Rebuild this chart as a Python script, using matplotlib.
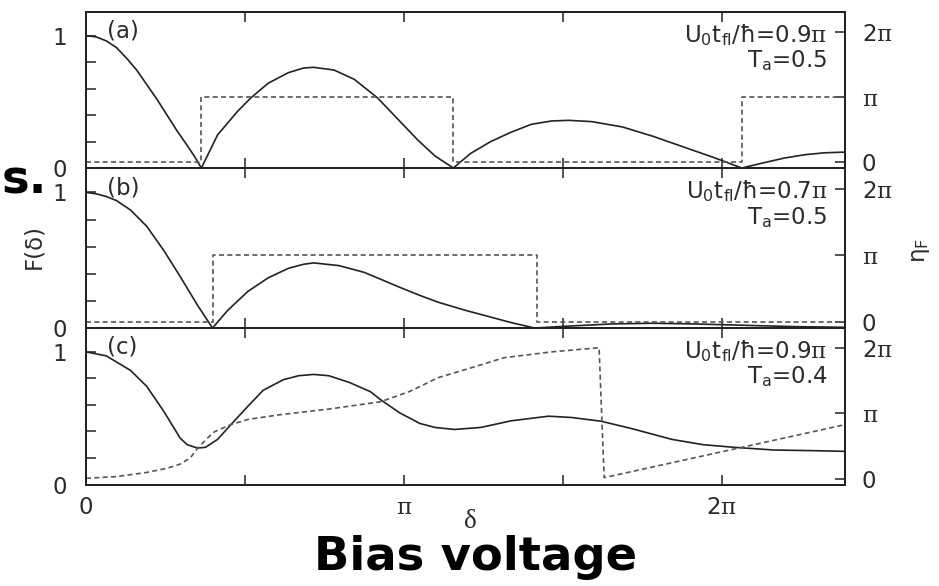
import numpy as np
import matplotlib
matplotlib.use("Agg")
import matplotlib.pyplot as plt

plt.rcParams["font.family"] = ["DejaVu Sans"]
plt.rcParams["mathtext.fontset"] = "custom"
plt.rcParams["mathtext.rm"] = "DejaVu Sans"
plt.rcParams["mathtext.it"] = "DejaVu Sans:italic"
plt.rcParams["mathtext.cal"] = "DejaVu Serif"

PI = np.pi

# panel labels / parameters
panel_tags = ["(a)", "(b)", "(c)"]
u0_values = ["0.9", "0.7", "0.9"]
ta_values = ["0.5", "0.5", "0.4"]

# (a) U0 tfl/hbar = 0.9 pi, Ta = 0.5
delta_a = [0, 0.1, 0.2, 0.3, 0.4, 0.5, 0.6, 0.7, 0.8, 0.9, 1.0, 1.07, 1.14,
           1.3, 1.5, 1.63, 1.8, 2.0, 2.15, 2.25, 2.45, 2.65, 2.88, 3.08,
           3.28, 3.45, 3.63,
           3.8, 4.0, 4.2, 4.4, 4.6, 4.77, 5.0, 5.3, 5.6, 5.9, 6.2, 6.48,
           6.7, 6.9, 7.1, 7.3, 7.5]
f_a = [1.0, 0.99, 0.96, 0.91, 0.83, 0.74, 0.63, 0.52, 0.40, 0.28, 0.17, 0.09, 0.0,
       0.25, 0.43, 0.53, 0.64, 0.72, 0.755, 0.76, 0.74, 0.67, 0.53, 0.37,
       0.21, 0.09, 0.0,
       0.11, 0.2, 0.27, 0.33, 0.355, 0.36, 0.35, 0.31, 0.24, 0.16, 0.08, 0.0,
       0.04, 0.075, 0.10, 0.115, 0.12]
phase_delta_a = [0, 1.14, 1.14, 3.63, 3.63, 6.48, 6.48, 7.5]
eta_a = [0, 0, PI, PI, 0, 0, PI, PI]

# (b) U0 tfl/hbar = 0.7 pi, Ta = 0.5
delta_b = [0, 0.1, 0.2, 0.3, 0.44, 0.6, 0.77, 0.93, 1.1, 1.25,
           1.4, 1.6, 1.8, 2.0, 2.15, 2.25, 2.5, 2.75, 2.91, 3.1, 3.3, 3.48,
           3.75, 4.0, 4.2, 4.43,
           4.8, 5.2, 5.6, 6.0, 6.5, 7.0, 7.5]
f_b = [1.0, 0.99, 0.97, 0.94, 0.87, 0.75, 0.57, 0.38, 0.17, 0.0,
       0.13, 0.27, 0.37, 0.44, 0.47, 0.48, 0.46, 0.41, 0.36, 0.30, 0.24, 0.19,
       0.13, 0.08, 0.04, 0.0,
       0.015, 0.03, 0.035, 0.03, 0.02, 0.01, 0.005]
phase_delta_b = [0, 1.25, 1.25, 4.46, 4.46, 7.5]
eta_b = [0, 0, PI, PI, 0, 0]

# (c) U0 tfl/hbar = 0.9 pi, Ta = 0.4
delta_c = [0, 0.2, 0.44, 0.6, 0.77, 0.93, 1.0, 1.1, 1.18, 1.3, 1.43, 1.6,
           1.75, 1.95, 2.1, 2.25, 2.4, 2.6, 2.81, 2.91, 3.1, 3.3, 3.45, 3.64,
           3.9, 4.2, 4.57, 4.8, 5.09, 5.4, 5.79, 6.1, 6.41, 6.8, 7.2, 7.5]
f_c = [1.0, 0.97, 0.86, 0.74, 0.55, 0.35, 0.30, 0.275, 0.28, 0.34, 0.45, 0.59,
       0.71, 0.79, 0.82, 0.83, 0.82, 0.77, 0.70, 0.64, 0.54, 0.46, 0.43, 0.415,
       0.43, 0.48, 0.515, 0.505, 0.477, 0.42, 0.34, 0.30, 0.28, 0.26, 0.255, 0.25]
phase_delta_c = [0, 0.3, 0.6, 0.8, 0.93, 1.03, 1.1, 1.2, 1.27, 1.43, 1.6,
                 1.92, 2.4, 2.91, 3.2, 3.48, 3.81, 4.13, 4.6, 5.07, 5.12, 7.5]
eta_c = [0.02, 0.1, 0.3, 0.5, 0.7, 1.0, 1.45, 1.95, 2.26, 2.6, 2.85,
         3.08, 3.35, 3.7, 4.2, 4.86, 5.34, 5.82, 6.1, 6.3, 0.05, 2.6]

x_ticks = [0, PI / 2, PI, 3 * PI / 2, 2 * PI]
x_ticklabels = ["0", "", r"$\mathcal{π}$", "", r"2$\mathcal{π}$"]
f_ticks = [0, 0.2, 0.4, 0.6, 0.8, 1.0]
f_ticklabels = ["0", "", "", "", "", "1"]
eta_ticks = [0, PI, 2 * PI]
eta_ticklabels = ["0", r"$\mathcal{π}$", r"2$\mathcal{π}$"]

TXT = "#2b2b2b"
FS = 16.5

panels = [
    (delta_a, f_a, phase_delta_a, eta_a),
    (delta_b, f_b, phase_delta_b, eta_b),
    (delta_c, f_c, phase_delta_c, eta_c),
]
# axes boxes [left, bottom, width, height] in figure fraction
boxes = [
    [0.0916, 0.7133, 0.8083, 0.2667],
    [0.0916, 0.4403, 0.8083, 0.2730],
    [0.0916, 0.1732, 0.8083, 0.2671],
]

fig = plt.figure(figsize=(9.39, 5.86), dpi=100)

for i, (dx, f, px, eta) in enumerate(panels):
    ax = fig.add_axes(boxes[i])
    ax2 = ax.twinx()

    ax.plot(dx, f, color="#222222", lw=1.2, solid_joinstyle="round")
    ax2.plot(px, eta, color="#555555", lw=1.2, linestyle=(0, (3, 2)))

    ax.set_xlim(0, 7.5)
    ax.set_ylim(0, 1.18)
    ax2.set_ylim(-0.28, 7.25)

    ax.set_xticks(x_ticks)
    if i == 2:
        ax.set_xticklabels(x_ticklabels)
    else:
        ax.set_xticklabels([])
    ax.set_yticks(f_ticks)
    ax.set_yticklabels(f_ticklabels)
    ax2.set_yticks(eta_ticks)
    ax2.set_yticklabels(eta_ticklabels)

    ax.tick_params(axis="both", direction="in", length=7, width=1.1,
                   top=True, bottom=True, left=True, right=False,
                   labelsize=FS, labelcolor=TXT, colors="#222222")
    ax.tick_params(axis="y", pad=14)
    ax.tick_params(axis="x", pad=8)
    ax2.tick_params(axis="y", direction="in", length=7, width=1.1,
                    labelsize=FS, labelcolor=TXT, pad=12, colors="#222222")

    for a in (ax, ax2):
        for s in a.spines.values():
            s.set_linewidth(1.4)
            s.set_color("#222222")

    ax.text(0.027, 0.95, panel_tags[i], transform=ax.transAxes,
            ha="left", va="top", fontsize=FS, color=TXT)
    ax.text(0.977, 0.935,
            r"U$_\mathrm{0}$t$_\mathrm{fl}$/ħ=" + u0_values[i] + r"$\mathcal{π}$",
            transform=ax.transAxes, ha="right", va="top", fontsize=FS, color=TXT)
    ax.text(0.977, 0.77, r"T$_\mathrm{a}$=" + ta_values[i],
            transform=ax.transAxes, ha="right", va="top", fontsize=FS, color=TXT)

fig.text(34 / 939, 1 - 247 / 586, "F(δ)", rotation=90, ha="center",
         va="center", fontsize=FS, color=TXT)
fig.text(920 / 939, 1 - 251 / 586, r"η$_\mathrm{F}$", rotation=90,
         ha="center", va="center", fontsize=FS, color=TXT)
fig.text(470 / 939, 1 - 521 / 586, "δ", ha="center", va="center",
         fontsize=FS + 3, color=TXT, family="Liberation Serif")

fig.text(0.506, 1 - 558 / 586, "Bias voltage", ha="center", va="center",
         fontsize=33.5, fontweight="bold", family="DejaVu Sans", color="black")
fig.text(47 / 939, 1 - 193 / 586, "s.", ha="right", va="baseline",
         fontsize=33.5, fontweight="bold", family="DejaVu Sans", color="black")

fig.savefig("out.png", dpi=100)
plt.close(fig)
